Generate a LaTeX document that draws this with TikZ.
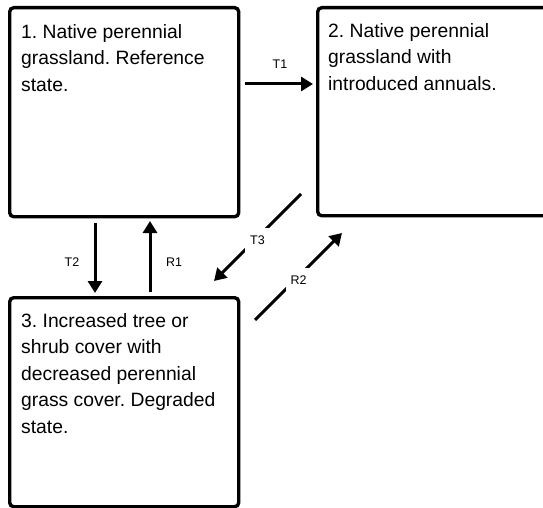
\documentclass[tikz,border=0pt]{standalone}
\usepackage{fontspec}
\setmainfont{Liberation Sans}
\usetikzlibrary{arrows.meta}
\frenchspacing
\begin{document}
\begin{tikzpicture}[x=1pt,y=-1pt,
  statebox/.style={draw, line width=3.4pt, rounded corners=4pt, anchor=north west, inner sep=0pt},
  boxtext/.style={anchor=north west, inner sep=0pt, align=left, font=\frenchspacing\fontsize{19.3}{26.5}\selectfont},
  arr/.style={line width=3pt, -{Triangle[length=12pt,width=14pt]}},
  lbl/.style={font=\fontsize{12.5}{14}\selectfont, inner sep=0pt},
  gaplbl/.style={font=\fontsize{12.5}{14}\selectfont, fill=white, inner sep=0pt, minimum size=25pt}]
\useasboundingbox (0,0) rectangle (543,508);
\node[statebox, minimum width=229pt, minimum height=209pt] (b1) at (8,6) {};
\node[statebox, minimum width=250pt, minimum height=208pt] (b2) at (316,6) {};
\node[statebox, minimum width=229pt, minimum height=209pt] (b3) at (8,296) {};
\node[boxtext] (t1) at (21,24) {1. Native perennial\\grassland. Reference\\state.};
\node[boxtext] (t2) at (328,23) {2. Native perennial\\grassland with\\introduced annuals.};
\node[boxtext] (t3) at (21,313) {3. Increased tree or\\shrub cover with\\decreased perennial\\grass cover. Degraded\\state.};
\coordinate (t1s) at (245,84);
\coordinate (t1e) at (313,84);
\coordinate (t2s) at (95,223);
\coordinate (t2e) at (95,293);
\coordinate (r1s) at (150,292);
\coordinate (r1e) at (150,221);
\coordinate (t3s) at (301,194);
\coordinate (t3e) at (214,281);
\coordinate (r2s) at (255,320);
\coordinate (r2e) at (342,233);
\draw[arr] (t1s) -- (t1e);
\node[lbl] (l1) at (280,64) {T1};
\draw[arr] (t2s) -- (t2e);
\node[lbl] (l2) at (72,262) {T2};
\draw[arr] (r1s) -- (r1e);
\node[lbl] (l3) at (174,262) {R1};
\draw[arr] (t3s) -- node[gaplbl, yshift=-3pt] (l4) {T3} (t3e);
\draw[arr] (r2s) -- node[gaplbl, yshift=-4pt] (l5) {R2} (r2e);
\end{tikzpicture}
\end{document}
